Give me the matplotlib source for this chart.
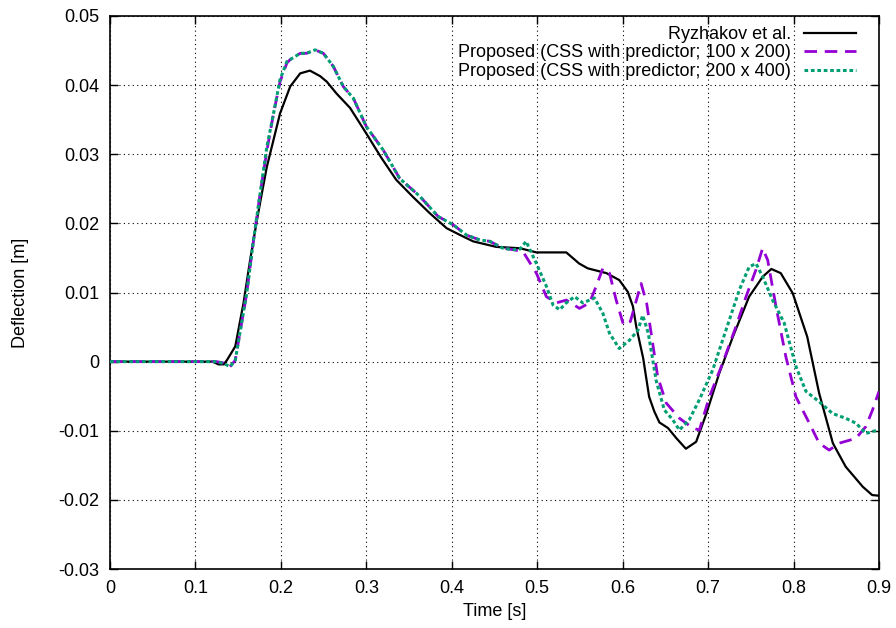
import matplotlib
matplotlib.use("Agg")
import matplotlib.pyplot as plt
from matplotlib.ticker import FixedLocator

plt.rcParams['font.family'] = ['Liberation Sans', 'DejaVu Sans']

# Ryzhakov et al.
t_ref = [0, 0.12, 0.127, 0.133, 0.1368, 0.1466, 0.1563, 0.164, 0.172, 0.1778, 0.1836,
         0.1914, 0.199, 0.2109, 0.2226, 0.234, 0.2459, 0.2537, 0.265, 0.281, 0.300,
         0.3175, 0.335, 0.354, 0.374, 0.394, 0.41, 0.425, 0.452, 0.480, 0.499, 0.534,
         0.549, 0.559, 0.581, 0.596, 0.606, 0.612, 0.616, 0.624, 0.631, 0.637, 0.643,
         0.653, 0.663, 0.674, 0.686, 0.698, 0.713, 0.729, 0.748, 0.764, 0.774, 0.785,
         0.799, 0.816, 0.830, 0.846, 0.861, 0.881, 0.892, 0.9]
y_ref = [0, 0, -0.0004, -0.0004, 0.0002, 0.0022, 0.0085, 0.0147, 0.0205, 0.0244, 0.0282,
         0.0321, 0.0359, 0.0398, 0.0417, 0.0421, 0.0413, 0.0405, 0.0388, 0.0367, 0.033,
         0.0295, 0.0263, 0.0239, 0.0215, 0.0193, 0.0183, 0.0174, 0.0166, 0.0164, 0.0158, 0.0158,
         0.0142, 0.0135, 0.0128, 0.0118, 0.0101, 0.008, 0.005, 0.0005, -0.0051, -0.0072, -0.0088,
         -0.0096, -0.0111, -0.0126, -0.0116, -0.0075, -0.0017, 0.0036, 0.0094, 0.0123, 0.0134, 0.0128,
         0.0099, 0.0036, -0.0046, -0.0118, -0.0152, -0.0181, -0.0193, -0.0194]

# Proposed (100 x 200)
t_p1 = [0, 0.125, 0.133, 0.14, 0.1466, 0.152, 0.160, 0.168, 0.1758, 0.1836, 0.1914,
        0.199, 0.207, 0.2109, 0.2226, 0.230, 0.240, 0.2497, 0.2614, 0.273, 0.2848,
        0.300, 0.3198, 0.339, 0.3627, 0.384, 0.4016, 0.4173, 0.4328, 0.4445, 0.46,
        0.4717, 0.4834, 0.499, 0.5107, 0.5224, 0.534, 0.5495, 0.5612, 0.569, 0.5768,
        0.5846, 0.5924, 0.601, 0.609, 0.6216, 0.628, 0.641, 0.651, 0.6665, 0.682,
        0.6898, 0.7015, 0.717, 0.7327, 0.7444, 0.756, 0.7638, 0.7697, 0.7794, 0.791,
        0.8028, 0.8184, 0.830, 0.8417, 0.8534, 0.873, 0.8846, 0.8924, 0.9]
y_p1 = [0, 0, -0.0002, -0.0008, 0.0002, 0.0041, 0.0099, 0.0176, 0.0244, 0.0305, 0.0359,
        0.0405, 0.0432, 0.0437, 0.0446, 0.0446, 0.0451, 0.0446, 0.0427, 0.0398, 0.0381,
        0.034, 0.0306, 0.0265, 0.0239, 0.021, 0.0198, 0.0183, 0.0176, 0.0174, 0.0164,
        0.0162, 0.0159, 0.0128, 0.0094, 0.0085, 0.0089, 0.0077, 0.0085, 0.0109, 0.0135,
        0.0128, 0.0089, 0.0053, 0.0058, 0.0113, 0.0085, -0.0022, -0.006, -0.0082, -0.0096,
        -0.0099, -0.0051, -0.0002, 0.0051, 0.0094, 0.0133, 0.0164, 0.0147, 0.008, 0.0007,
        -0.0051, -0.0089, -0.0118, -0.0128, -0.0118, -0.0111, -0.0094, -0.007, -0.0043]

# Proposed (200 x 400)
t_p2 = [0, 0.125, 0.133, 0.1407, 0.1466, 0.152, 0.160, 0.168, 0.1758, 0.1836, 0.1914,
        0.199, 0.207, 0.2109, 0.2226, 0.230, 0.240, 0.2497, 0.2614, 0.273, 0.2848,
        0.300, 0.3198, 0.339, 0.3627, 0.384, 0.4016, 0.4173, 0.4328, 0.4445, 0.46,
        0.4717, 0.480, 0.487, 0.499, 0.5107, 0.5185, 0.5263, 0.534, 0.5437, 0.5534,
        0.567, 0.5768, 0.5846, 0.596, 0.608, 0.6177, 0.6235, 0.630, 0.6393, 0.6488,
        0.6586, 0.6664, 0.678, 0.6898, 0.7054, 0.721, 0.7366, 0.748, 0.756, 0.7638,
        0.7755, 0.789, 0.8028, 0.8145, 0.830, 0.8456, 0.861, 0.873, 0.8846, 0.8924, 0.9]
y_p2 = [0, 0, -0.0003, -0.0007, 0.0002, 0.0041, 0.0099, 0.0176, 0.0244, 0.0311, 0.0359,
        0.0408, 0.0434, 0.0437, 0.0446, 0.0446, 0.0451, 0.0446, 0.0427, 0.0398, 0.0381,
        0.034, 0.0306, 0.0265, 0.0239, 0.021, 0.0198, 0.0183, 0.0176, 0.0174, 0.0164,
        0.0162, 0.0163, 0.0174, 0.0142, 0.0109, 0.0082, 0.0075, 0.0085, 0.0094, 0.0085,
        0.0092, 0.007, 0.0041, 0.0019, 0.0031, 0.0045, 0.0067, 0.0041, -0.0028, -0.007,
        -0.0084, -0.0099, -0.0084, -0.0055, -0.0012, 0.0046, 0.0104, 0.0137, 0.0142, 0.0123,
        0.0089, 0.0056, -0.0007, -0.0043, -0.0058, -0.0075, -0.0082, -0.0089, -0.0104, -0.0101, -0.0099]

labels = ["Ryzhakov et al.",
          "Proposed (CSS with predictor; 100 x 200)",
          "Proposed (CSS with predictor; 200 x 400)"]
x_ticks = [0, 0.1, 0.2, 0.3, 0.4, 0.5, 0.6, 0.7, 0.8, 0.9]
x_ticklabels = ["0", "0.1", "0.2", "0.3", "0.4", "0.5", "0.6", "0.7", "0.8", "0.9"]
y_ticks = [-0.03, -0.02, -0.01, 0, 0.01, 0.02, 0.03, 0.04, 0.05]
y_ticklabels = ["-0.03", "-0.02", "-0.01", "0", "0.01", "0.02", "0.03", "0.04", "0.05"]

fig = plt.figure(figsize=(8.96, 6.28), dpi=100)
ax = fig.add_axes([110/896, 1 - 569/628, (879-110)/896, (569-16)/628])

ax.plot(t_ref, y_ref, color='black', lw=1.6, label=labels[0], zorder=3)
ax.plot(t_p1, y_p1, color='#9400D3', lw=2.0, dashes=(4.5, 2.8), label=labels[1], zorder=4)
ax.plot(t_p2, y_p2, color='#009E73', lw=2.2, dashes=(1.2, 0.9), label=labels[2], zorder=5)

ax.set_xlim(0, 0.9)
ax.set_ylim(-0.03, 0.05)
ax.xaxis.set_major_locator(FixedLocator(x_ticks))
ax.yaxis.set_major_locator(FixedLocator(y_ticks))
ax.set_xticklabels(x_ticklabels)
ax.set_yticklabels(y_ticklabels)
ax.tick_params(direction='in', length=6, width=1, top=True, right=True,
               labelsize=13, pad=8)
ax.grid(True, color='black', linestyle=(0, (1, 3)), lw=0.8)
for s in ax.spines.values():
    s.set_linewidth(1.2)

ax.set_xlabel("Time [s]", fontsize=13)
ax.set_ylabel("Deflection [m]", fontsize=13)
ax.xaxis.set_label_coords(0.5, -0.062)
ax.yaxis.set_label_coords(-0.105, 0.5)

leg = ax.legend(loc='upper right', bbox_to_anchor=(0.970, 0.982), frameon=False,
                markerfirst=False, fontsize=13, handlelength=2.9, handletextpad=0.7,
                labelspacing=0.08, borderpad=0, borderaxespad=0)

fig.savefig("out.png", dpi=100)
